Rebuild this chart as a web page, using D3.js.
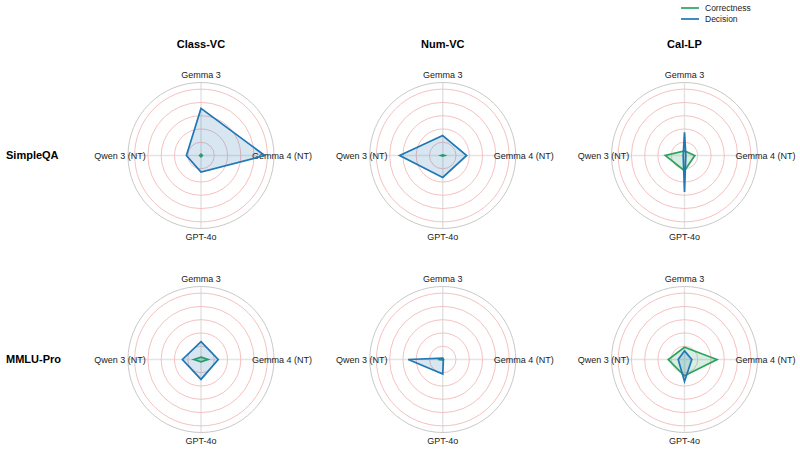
<!DOCTYPE html>
<html>
<head>
<meta charset="utf-8">
<style>
  body { margin: 0; background: #fff; }
  svg { font-family: "Liberation Sans", Arial, sans-serif; }
</style>
<script src="https://cdn.jsdelivr.net/npm/d3@7"></script>
</head>
<body>
<div id="chart"></div>
<script>
// categories
var models   = ["Gemma 3", "Gemma 4 (NT)", "GPT-4o", "Qwen 3 (NT)"];
var methods  = ["Class-VC", "Num-VC", "Cal-LP"];
var datasets = ["SimpleQA", "MMLU-Pro"];
var rTicks   = [0.2, 0.4, 0.6, 0.8, 1.0];
var rMax     = 1.1;

// values per method, in model order
var correctnessSimpleQA = [[0.02, 0.02, 0.02, 0.02], [0.01, 0.03, 0.01, 0.03], [0.07, 0.155, 0.23, 0.29]];
var decisionSimpleQA    = [[0.71, 0.96, 0.25, 0.22], [0.30, 0.36, 0.33, 0.65], [0.35, 0.02, 0.55, 0.02]];
var correctnessMMLU     = [[0.035, 0.105, 0.035, 0.105], [0.01, 0.01, 0.01, 0.07], [0.185, 0.49, 0.245, 0.245]];
var decisionMMLU        = [[0.27, 0.26, 0.30, 0.28], [0.02, 0.01, 0.22, 0.52], [0.13, 0.11, 0.33, 0.095]];

var series = [
  {name: "Correctness", color: "#2ca25f", values: [correctnessSimpleQA, correctnessMMLU]},
  {name: "Decision",    color: "#1f77b4", values: [decisionSimpleQA, decisionMMLU]}
];

var width = 800, height = 451;
var svg = d3.select("#chart").append("svg")
  .attr("width", width).attr("height", height);

var cx = d3.scalePoint().domain(methods).range([201, 684.5]);
var cy = d3.scalePoint().domain(datasets).range([155.5, 359.5]);
var r  = d3.scaleLinear().domain([0, rMax]).range([0, 73]);
var angle = d3.scalePoint().domain(models).range([0, 2 * Math.PI * 3 / 4]);

var radial = d3.lineRadial()
  .angle(function(d, i) { return angle(models[i]); })
  .radius(function(d) { return r(d); })
  .curve(d3.curveLinearClosed);

// column titles
svg.selectAll(".col-title").data(methods).enter().append("text")
  .attr("x", function(d) { return cx(d); })
  .attr("y", 48)
  .attr("text-anchor", "middle")
  .style("font-size", "11px").style("font-weight", "bold")
  .text(function(d) { return d; });

// row labels
svg.selectAll(".row-title").data(datasets).enter().append("text")
  .attr("x", 6)
  .attr("y", function(d) { return cy(d); })
  .attr("dy", "0.35em")
  .style("font-size", "11px").style("font-weight", "bold")
  .text(function(d) { return d; });

datasets.forEach(function(ds, di) {
  methods.forEach(function(m, mi) {
    var g = svg.append("g")
      .attr("transform", "translate(" + cx(m) + "," + cy(ds) + ")");

    // spokes
    g.selectAll(".spoke").data(models).enter().append("line")
      .attr("x1", 0).attr("y1", 0)
      .attr("x2", function(d) { return r(rMax) * Math.sin(angle(d)); })
      .attr("y2", function(d) { return -r(rMax) * Math.cos(angle(d)); })
      .style("stroke", "#e4e4e4").style("stroke-width", 1.5);

    // red grid rings
    g.selectAll(".ring").data(rTicks).enter().append("circle")
      .attr("r", function(d) { return r(d); })
      .style("fill", "none").style("stroke", "#f3baba").style("stroke-width", 0.9);

    // outer spine
    g.append("circle").attr("r", r(rMax))
      .style("fill", "none").style("stroke", "#c9c9c9").style("stroke-width", 1);

    // model labels
    g.selectAll(".lab").data(models).enter().append("text")
      .attr("x", function(d) { return 81 * Math.sin(angle(d)); })
      .attr("y", function(d) { return -81 * Math.cos(angle(d)); })
      .attr("dy", "0.35em")
      .attr("text-anchor", "middle")
      .style("font-size", "9px").style("fill", "#222")
      .text(function(d) { return d; });

    // series polygons
    series.forEach(function(s) {
      var vals = s.values[di][mi];
      g.append("path").datum(vals)
        .attr("d", radial)
        .style("fill", s.color).style("fill-opacity", 0.18)
        .style("stroke", s.color).style("stroke-width", 1.7)
        .style("stroke-linejoin", "miter");
    });
  });
});

// legend
var legend = svg.append("g").attr("transform", "translate(681,8)");
series.forEach(function(s, i) {
  legend.append("line")
    .attr("x1", 0).attr("x2", 18)
    .attr("y1", i * 11).attr("y2", i * 11)
    .style("stroke", s.color).style("stroke-width", 1.7);
  legend.append("text")
    .attr("x", 24).attr("y", i * 11).attr("dy", "0.35em")
    .style("font-size", "8.5px").style("fill", "#222")
    .text(s.name);
});
</script>
</body>
</html>
